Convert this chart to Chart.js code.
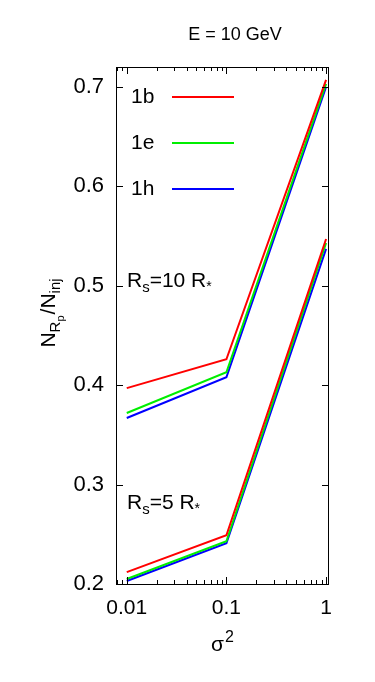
<!DOCTYPE html>
<html>
<head>
<meta charset="utf-8">
<script src="https://cdn.jsdelivr.net/npm/chart.js@4.4.0/dist/chart.umd.min.js"></script>
<style>
html,body{margin:0;padding:0;background:#fff;}
#wrap{width:375px;height:682px;}
</style>
</head>
<body>
<div id="wrap"><canvas id="c" width="375" height="682"></canvas></div>
<script>
// ---- data ----
const sigma2 = [0.01, 0.1, 1];
const models = ['1b', '1e', '1h'];
const rs10_1b = [0.397, 0.426, 0.707];
const rs10_1e = [0.372, 0.413, 0.703];
const rs10_1h = [0.367, 0.408, 0.700];
const rs5_1b = [0.212, 0.249, 0.547];
const rs5_1e = [0.205, 0.243, 0.543];
const rs5_1h = [0.203, 0.241, 0.537];
const xTickValues = [0.01, 0.1, 1];
const xTickLabels = ['0.01', '0.1', '1'];
const yTickValues = [0.2, 0.3, 0.4, 0.5, 0.6, 0.7];
const yTickLabels = ['0.2', '0.3', '0.4', '0.5', '0.6', '0.7'];
const xMinorValues = [0.008, 0.009, 0.02, 0.03, 0.04, 0.05, 0.06, 0.07, 0.08, 0.09, 0.2, 0.3, 0.4, 0.5, 0.6, 0.7, 0.8, 0.9];
const colors = ['#ff0000', '#00ee00', '#0000ff'];

const FONT = '"Liberation Sans", Arial, Helvetica, sans-serif';

function pts(arr){ return sigma2.map((x,i)=>({x:x, y:arr[i]})); }
function ds(arr, ci){
  return {data: pts(arr), borderColor: colors[ci], backgroundColor: colors[ci], borderWidth: 2,
          pointRadius: 0, tension: 0, fill: false};
}

function drawRich(ctx, parts, x, y){
  let cx = x;
  for (const p of parts){
    ctx.font = p[1] + 'px ' + FONT;
    ctx.fillText(p[0], cx, y + (p[2]||0));
    cx += ctx.measureText(p[0]).width + (p[3]||0);
  }
  return cx - x;
}
function richWidth(ctx, parts){
  let w = 0;
  for (const p of parts){ ctx.font = p[1] + 'px ' + FONT; w += ctx.measureText(p[0]).width + (p[3]||0); }
  return w;
}

const decor = {
  id: 'decor',
  afterDatasetsDraw(chart){
    const ctx = chart.ctx, a = chart.chartArea;
    const xs = chart.scales.x, ys = chart.scales.y;
    ctx.save();
    ctx.strokeStyle = '#000'; ctx.lineWidth = 1;
    // frame
    ctx.strokeRect(Math.round(a.left)+0.5, Math.round(a.top)+0.5, Math.round(a.right-a.left)-1, Math.round(a.bottom-a.top));
    ctx.beginPath();
    for (const v of xTickValues){
      const px = Math.round(xs.getPixelForValue(v))+0.5;
      ctx.moveTo(px, a.bottom); ctx.lineTo(px, a.bottom-7);
      ctx.moveTo(px, a.top); ctx.lineTo(px, a.top+7);
    }
    for (const v of xMinorValues){
      const px = Math.round(xs.getPixelForValue(v))+0.5;
      if (px < a.left || px > a.right) continue;
      ctx.moveTo(px, a.bottom); ctx.lineTo(px, a.bottom-4);
      ctx.moveTo(px, a.top); ctx.lineTo(px, a.top+4);
    }
    for (const v of yTickValues){
      const py = Math.round(ys.getPixelForValue(v))+0.5;
      ctx.moveTo(a.left, py); ctx.lineTo(a.left+7, py);
      ctx.moveTo(a.right, py); ctx.lineTo(a.right-7, py);
    }
    ctx.stroke();

    // legend
    const legY = [97, 143, 189];
    ctx.fillStyle = '#000';
    ctx.textBaseline = 'middle';
    ctx.textAlign = 'left';
    for (let i=0;i<models.length;i++){
      ctx.font = '21px ' + FONT;
      ctx.fillStyle = '#000';
      ctx.fillText(models[i], 131, legY[i]);
      ctx.strokeStyle = colors[i]; ctx.lineWidth = 2;
      ctx.beginPath(); ctx.moveTo(172, legY[i]); ctx.lineTo(234, legY[i]); ctx.stroke();
    }

    // annotations
    ctx.fillStyle = '#000';
    ctx.textBaseline = 'alphabetic';
    drawRich(ctx, [['R',21],['s',15,5],['=10 R',21],['*',14,4]], 127, 287);
    drawRich(ctx, [['R',21],['s',15,5],['=5 R',21],['*',14,4]], 127, 509);

    // title
    ctx.font = '18px ' + FONT;
    ctx.textAlign = 'center';
    ctx.fillText('E = 10 GeV', 235, 40);

    // x axis label
    ctx.textAlign = 'left';
    drawRich(ctx, [['σ',21,0,1],['2',16,-9]], 211, 651);

    // y axis label (rotated)
    const yparts = [['N',21],['R',15,5],['p',11,9,1],['/N',21],['inj',15,5]];
    const w = richWidth(ctx, yparts);
    ctx.translate(55, 313);
    ctx.rotate(-Math.PI/2);
    drawRich(ctx, yparts, -w/2, 0);
    ctx.restore();
  }
};

new Chart(document.getElementById('c'), {
  type: 'line',
  data: {
    datasets: [
      ds(rs10_1b,0), ds(rs10_1e,1), ds(rs10_1h,2),
      ds(rs5_1b,0), ds(rs5_1e,1), ds(rs5_1h,2)
    ]
  },
  options: {
    responsive: false,
    animation: false,
    devicePixelRatio: 1,
    layout: {padding: {left: 0, right: 46, top: 67, bottom: 0}},
    plugins: {legend: {display: false}, title: {display: false}, tooltip: {enabled: false}},
    scales: {
      x: {
        type: 'logarithmic', min: 0.0078, max: 1.07,
        grid: {display: false, drawTicks: false}, border: {display: false},
        afterBuildTicks(s){ s.ticks = xTickValues.map(v=>({value:v})); },
        afterFit(s){ s.height = 98; },
        ticks: {
          autoSkip: false, maxRotation: 0, padding: 12, color: '#000',
          font: {family: FONT, size: 21},
          callback(v){ const i = xTickValues.indexOf(v); return i>=0 ? xTickLabels[i] : ''; }
        }
      },
      y: {
        type: 'linear', min: 0.2, max: 0.72,
        grid: {display: false, drawTicks: false}, border: {display: false},
        afterBuildTicks(s){ s.ticks = yTickValues.map(v=>({value:v})); },
        afterFit(s){ s.width = 116; },
        ticks: {
          padding: 12, color: '#000',
          font: {family: FONT, size: 22},
          callback(v){ const i = yTickValues.findIndex(t=>Math.abs(t-v)<1e-9); return i>=0 ? yTickLabels[i] : ''; }
        }
      }
    }
  },
  plugins: [decor]
});
</script>
</body>
</html>
